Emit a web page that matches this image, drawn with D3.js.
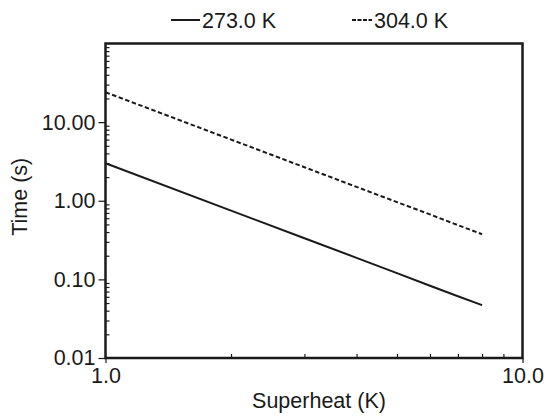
<!DOCTYPE html>
<html>
<head>
<meta charset="utf-8">
<script src="https://cdn.jsdelivr.net/npm/d3@7"></script>
<style>
  body { margin: 0; background: #fff; }
  text { font-family: "Liberation Sans", Arial, Helvetica, sans-serif; fill: #1a1a1a; }
</style>
</head>
<body>
<script>
// values
var superheat = [1, 2, 3, 4, 5, 6, 7, 8];
var time273 = [3.0, 0.75, 0.333, 0.188, 0.12, 0.083, 0.061, 0.047];
var time304 = [24.0, 6.0, 2.67, 1.5, 0.96, 0.67, 0.49, 0.375];
var seriesNames = ["273.0 K", "304.0 K"];
var xTicks = [1, 10];
var yTicks = [0.01, 0.1, 1, 10];

var width = 556;
var height = 417;
var margin = { top: 43.5, right: 33.5, bottom: 59, left: 105.5 };
var fontSize = 21.5;

var svg = d3.select("body")
    .append("svg")
    .attr("width", width)
    .attr("height", height);

var x = d3.scaleLog()
    .domain([1, 10])
    .range([margin.left, width - margin.right]);

var y = d3.scaleLog()
    .domain([0.01, 100])
    .range([height - margin.bottom, margin.top]);

// minor ticks 2..9 of each decade
var yMinor = [];
[0.01, 0.1, 1, 10].forEach((d) => {
    for (let k = 2; k <= 9; k++) yMinor.push(d * k);
});
var xMinor = d3.range(2, 10);

// minor ticks, inside the frame
svg.append("g")
    .attr("transform", "translate(" + margin.left + ",0)")
    .call(d3.axisRight(y).tickValues(yMinor).tickSize(4).tickFormat(""))
    .call(g => g.select(".domain").remove());

svg.append("g")
    .attr("transform", "translate(0," + (height - margin.bottom) + ")")
    .call(d3.axisTop(x).tickValues(xMinor).tickSize(4).tickFormat(""))
    .call(g => g.select(".domain").remove());

// major ticks with labels
var yAxis = svg.append("g")
    .attr("transform", "translate(" + margin.left + ",0)")
    .call(d3.axisLeft(y).tickValues(yTicks).tickSize(7).tickPadding(3)
        .tickFormat(d3.format(".2f")));
yAxis.select(".domain").remove();
yAxis.selectAll("text").style("font-size", fontSize + "px");

var xAxis = svg.append("g")
    .attr("transform", "translate(0," + (height - margin.bottom) + ")")
    .call(d3.axisBottom(x).tickValues(xTicks).tickSize(5).tickPadding(5)
        .tickFormat(d3.format(".1f")));
xAxis.select(".domain").remove();
xAxis.selectAll("text").style("font-size", fontSize + "px");

svg.selectAll(".tick line").attr("stroke", "#1a1a1a").attr("stroke-width", 1.2);

// frame
svg.append("rect")
    .attr("x", margin.left)
    .attr("y", margin.top)
    .attr("width", width - margin.left - margin.right)
    .attr("height", height - margin.top - margin.bottom)
    .attr("fill", "none")
    .attr("stroke", "#1a1a1a")
    .attr("stroke-width", 2.5);

// lines
var line = d3.line()
    .x((d, i) => x(superheat[i]))
    .y((d) => y(d));

var dashes = [null, "4.5,2.5"];

svg.selectAll(".series")
    .data([time273, time304])
    .enter()
    .append("path")
    .attr("class", "series")
    .attr("d", line)
    .attr("fill", "none")
    .attr("stroke", "#1a1a1a")
    .attr("stroke-width", 2)
    .attr("stroke-dasharray", (d, i) => dashes[i]);

// axis titles
svg.append("text")
    .attr("x", (margin.left + width - margin.right) / 2 + 5)
    .attr("y", 408)
    .attr("text-anchor", "middle")
    .style("font-size", fontSize + "px")
    .text("Superheat (K)");

svg.append("text")
    .attr("transform", "translate(27," + ((margin.top + height - margin.bottom) / 2 - 4) + ") rotate(-90)")
    .attr("text-anchor", "middle")
    .style("font-size", fontSize + "px")
    .text("Time (s)");

// legend
var legendX = [171, 352];
var legendLen = [29, 20];
var legend = svg.selectAll(".legend")
    .data(seriesNames)
    .enter()
    .append("g")
    .attr("class", "legend")
    .attr("transform", (d, i) => "translate(" + legendX[i] + ",20)");

legend.append("line")
    .attr("x1", 0)
    .attr("x2", (d, i) => legendLen[i])
    .attr("stroke", "#1a1a1a")
    .attr("stroke-width", 2)
    .attr("stroke-dasharray", (d, i) => i === 1 ? "4,1.5" : null);

legend.append("text")
    .attr("x", (d, i) => legendLen[i] + 2)
    .attr("y", 7.5)
    .style("font-size", fontSize + "px")
    .text((d) => d);
</script>
</body>
</html>
